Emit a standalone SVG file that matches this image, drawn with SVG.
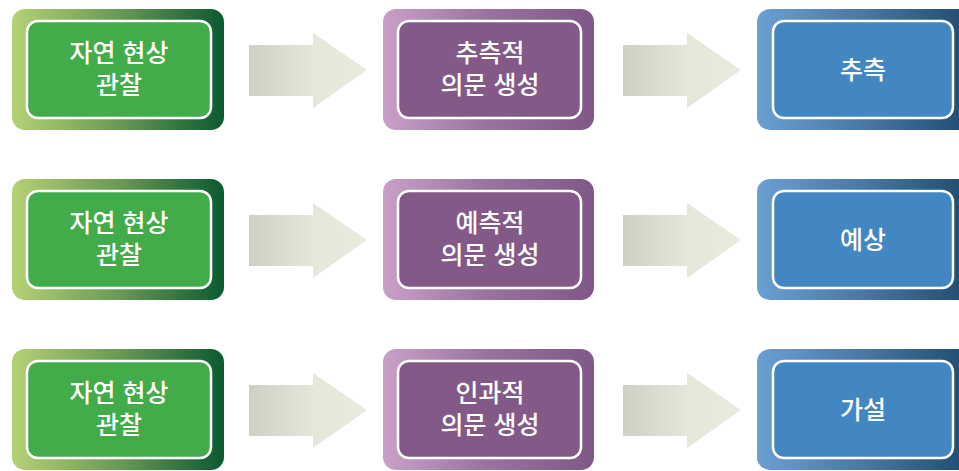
<svg xmlns="http://www.w3.org/2000/svg" width="959" height="471" viewBox="0 0 959 471">
<defs>
<linearGradient id="gG" x1="0" y1="0" x2="1" y2="0"><stop offset="0" stop-color="#b5d175"/><stop offset="0.5" stop-color="#6a9a55"/><stop offset="1" stop-color="#0b5a32"/></linearGradient>
<linearGradient id="gP" x1="0" y1="0" x2="1" y2="0"><stop offset="0" stop-color="#c8a0c7"/><stop offset="0.5" stop-color="#9a72a0"/><stop offset="1" stop-color="#805887"/></linearGradient>
<linearGradient id="gB" x1="0" y1="0" x2="1" y2="0"><stop offset="0" stop-color="#6b9fd2"/><stop offset="0.5" stop-color="#4a77a3"/><stop offset="1" stop-color="#1d4a6c"/></linearGradient>
<linearGradient id="gA" x1="0" y1="0" x2="1" y2="0"><stop offset="0" stop-color="#d0cfc3"/><stop offset="0.55" stop-color="#e6e6da"/><stop offset="1" stop-color="#eaeadf"/></linearGradient>
<path id="arr" d="M0,12 H64 V0 L118,37 L64,75 V63 H0 Z"/>
</defs>
<style>
.in{stroke:#fff;stroke-width:2.5}
.g{fill:#42ab4a}.p{fill:#835a87}.b{fill:#4287c2}
text{font-family:"Liberation Sans","Noto Sans CJK KR",sans-serif;font-size:25px;font-weight:500;fill:#fff;text-anchor:middle}
</style>
<g id="connectors" fill="url(#gA)">
<use href="#arr" x="249" y="33"/>
<use href="#arr" x="623" y="33"/>
<use href="#arr" x="249" y="203"/>
<use href="#arr" x="623" y="203"/>
<use href="#arr" x="249" y="373"/>
<use href="#arr" x="623" y="373"/>
</g>
<g id="n1a"><rect x="12" y="9" width="212" height="121" rx="13" fill="url(#gG)"/><rect class="in g" x="27" y="21" width="184" height="97" rx="11"/><text x="119" y="62">자연 현상</text><text x="119" y="94">관찰</text></g>
<g id="n1b"><rect x="383" y="9" width="211" height="121" rx="13" fill="url(#gP)"/><rect class="in p" x="398" y="21" width="183" height="97" rx="11"/><text x="490" y="62">추측적</text><text x="490" y="94">의문 생성</text></g>
<g id="n1c"><rect x="757" y="9" width="215" height="121" rx="13" fill="url(#gB)"/><rect class="in b" x="773" y="21" width="180" height="97" rx="11"/><text x="863" y="79">추측</text></g>
<g id="n2a"><rect x="12" y="179" width="212" height="121" rx="13" fill="url(#gG)"/><rect class="in g" x="27" y="191" width="184" height="97" rx="11"/><text x="119" y="232">자연 현상</text><text x="119" y="264">관찰</text></g>
<g id="n2b"><rect x="383" y="179" width="211" height="121" rx="13" fill="url(#gP)"/><rect class="in p" x="398" y="191" width="183" height="97" rx="11"/><text x="490" y="232">예측적</text><text x="490" y="264">의문 생성</text></g>
<g id="n2c"><rect x="757" y="179" width="215" height="121" rx="13" fill="url(#gB)"/><rect class="in b" x="773" y="191" width="180" height="97" rx="11"/><text x="863" y="249">예상</text></g>
<g id="n3a"><rect x="12" y="349" width="212" height="121" rx="13" fill="url(#gG)"/><rect class="in g" x="27" y="361" width="184" height="97" rx="11"/><text x="119" y="402">자연 현상</text><text x="119" y="434">관찰</text></g>
<g id="n3b"><rect x="383" y="349" width="211" height="121" rx="13" fill="url(#gP)"/><rect class="in p" x="398" y="361" width="183" height="97" rx="11"/><text x="490" y="402">인과적</text><text x="490" y="434">의문 생성</text></g>
<g id="n3c"><rect x="757" y="349" width="215" height="121" rx="13" fill="url(#gB)"/><rect class="in b" x="773" y="361" width="180" height="97" rx="11"/><text x="863" y="419">가설</text></g>
</svg>
